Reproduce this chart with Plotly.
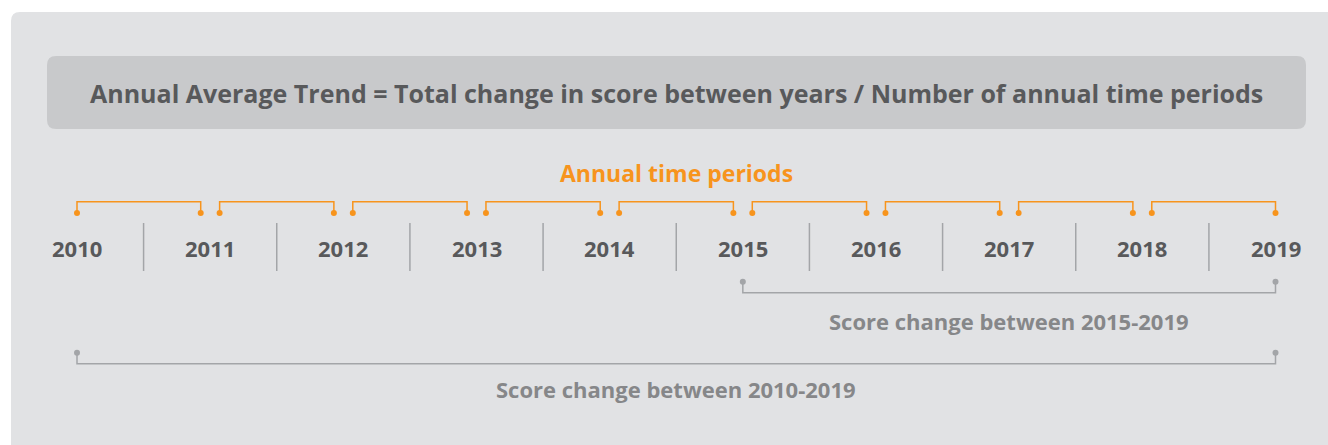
import plotly.graph_objects as go

# ---- data ----
years = [2010, 2011, 2012, 2013, 2014, 2015, 2016, 2017, 2018, 2019]
year_labels = [str(y) for y in years]
title_text = "Annual Average Trend = Total change in score between years / Number of annual time periods"
periods_label = "Annual time periods"
score_spans = [(2015, 2019), (2010, 2019)]
score_labels = ["Score change between 2015-2019", "Score change between 2010-2019"]

# ---- style ----
W, H = 1328, 445
ORANGE = "#f7941d"
DARK = "#58595b"
GREY_LINE = "#a3a5a8"
GREY_TEXT = "#868789"
PANEL = "#e1e2e4"
BOX = "#c8c9cb"
FONT = "Open Sans"
INSET = 0.071  # bracket inset from year centre (in years)

px_per_year = (1275.5 - 77) / (years[-1] - years[0])
x_lo = years[0] - 77 / px_per_year
x_hi = x_lo + W / px_per_year

fig = go.Figure()


def rrect(x0, y0, x1, y1, r):
    return (f"M {x0+r},{y0} L {x1-r},{y0} Q {x1},{y0} {x1},{y0+r} "
            f"L {x1},{y1-r} Q {x1},{y1} {x1-r},{y1} L {x0+r},{y1} "
            f"Q {x0},{y1} {x0},{y1-r} L {x0},{y0+r} Q {x0},{y0} {x0+r},{y0} Z")


shapes = [
    dict(type="path", xref="x2", yref="y", path=rrect(11, 12, 1340, 460, 9),
         fillcolor=PANEL, line=dict(width=0), layer="below"),
    dict(type="path", xref="x2", yref="y", path=rrect(47, 56, 1306, 129, 9),
         fillcolor=BOX, line=dict(width=0), layer="below"),
]

# separators between years
for a, b in zip(years[:-1], years[1:]):
    m = (a + b) / 2
    shapes.append(dict(type="line", xref="x", yref="y", x0=m, x1=m, y0=223, y1=271,
                       line=dict(color=GREY_LINE, width=1.5)))
fig.update_layout(shapes=shapes)

# orange annual brackets
n = len(years) - 1
for i, (a, b) in enumerate(zip(years[:-1], years[1:])):
    s = a if i == 0 else a + INSET
    e = b if i == n - 1 else b - INSET
    fig.add_trace(go.Scatter(x=[s, s, e, e], y=[213, 201.7, 201.7, 213], mode="lines",
                             line=dict(color=ORANGE, width=1.5), hoverinfo="skip",
                             showlegend=False))
    fig.add_trace(go.Scatter(x=[s, e], y=[213, 213], mode="markers",
                             marker=dict(color=ORANGE, size=6), hoverinfo="skip",
                             showlegend=False))

# grey score-change brackets
span_y = [(281.7, 292.7), (352.7, 363.7)]
label_y = [321, 389]
annotations = []
for (a, b), (yd, yl), lab, ly in zip(score_spans, span_y, score_labels, label_y):
    fig.add_trace(go.Scatter(x=[a, a, b, b], y=[yd, yl, yl, yd], mode="lines",
                             line=dict(color=GREY_LINE, width=1.5), hoverinfo="skip",
                             showlegend=False))
    fig.add_trace(go.Scatter(x=[a, b], y=[yd, yd], mode="markers",
                             marker=dict(color=GREY_LINE, size=6), hoverinfo="skip",
                             showlegend=False))
    annotations.append(dict(x=(a + b) / 2, y=ly, xref="x", yref="y", text=lab,
                            showarrow=False, xanchor="center", yanchor="middle",
                            font=dict(family=FONT, size=22, color=GREY_TEXT, weight=700)))

for yv, lab in zip(years, year_labels):
    annotations.append(dict(x=yv, y=248, xref="x", yref="y", text=lab, showarrow=False,
                            xanchor="center", yanchor="middle",
                            font=dict(family=FONT, size=22, color=DARK, weight=700)))

annotations.append(dict(x=(years[0] + years[-1]) / 2, y=173, xref="x", yref="y",
                        text=periods_label, showarrow=False, xanchor="center",
                        yanchor="middle",
                        font=dict(family=FONT, size=23, color=ORANGE, weight=700)))
annotations.append(dict(x=676.5, y=93, xref="x2", yref="y", text=title_text,
                        showarrow=False, xanchor="center", yanchor="middle",
                        font=dict(family=FONT, size=25, color=DARK, weight=700)))

fig.update_layout(
    width=W, height=H,
    margin=dict(l=0, r=0, t=0, b=0),
    paper_bgcolor="white", plot_bgcolor="rgba(0,0,0,0)",
    xaxis=dict(range=[x_lo, x_hi], visible=False, fixedrange=True),
    xaxis2=dict(range=[0, W], overlaying="x", visible=False, fixedrange=True),
    yaxis=dict(range=[H, 0], visible=False, fixedrange=True),
    annotations=annotations,
    showlegend=False,
)

fig.write_html("out.html", config={"displayModeBar": False},
               post_script="document.body.style.margin='0';")
